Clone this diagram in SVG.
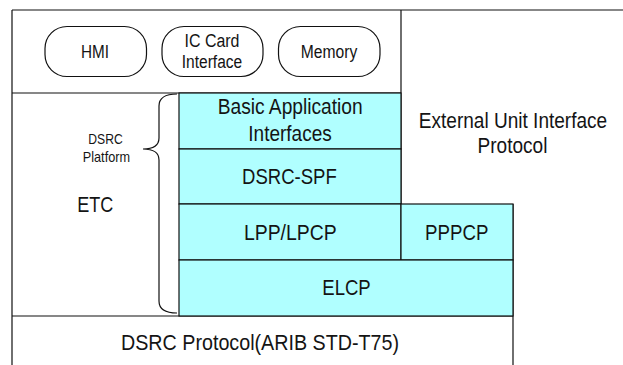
<svg xmlns="http://www.w3.org/2000/svg" width="623" height="365" viewBox="0 0 623 365">
  <style>
    .ln { fill: none; stroke: #111; stroke-width: 1.2; }
    .layer { fill: #b0ffff; stroke: #111; stroke-width: 1.2; }
    .pill { fill: #fff; stroke: #111; stroke-width: 1.2; }
    text { font-family: "Liberation Sans", Arial, sans-serif; fill: #141414; text-anchor: middle; }
    .big { font-size: 22px; }
    .mid { font-size: 18px; }
    .sm { font-size: 15px; }
  </style>
  <rect x="0" y="0" width="623" height="365" fill="#fff"/>

  <!-- frame of the unit -->
  <g id="frame">
    <path class="ln" d="M12,10 H623 M12,10 V365 M12,93 H401 M401,10 V204 M12,316 H513 M513,204 V365"/>
  </g>

  <!-- peripheral blocks -->
  <g id="hmi">
    <rect class="pill" x="45" y="26.5" width="101.5" height="50" rx="22"/>
    <text class="mid" x="95" y="58" textLength="28" lengthAdjust="spacingAndGlyphs">HMI</text>
  </g>
  <g id="ic-card">
    <rect class="pill" x="162" y="26.5" width="101" height="50" rx="22"/>
    <text class="mid" x="212" y="46.5" textLength="55" lengthAdjust="spacingAndGlyphs">IC Card</text>
    <text class="mid" x="212" y="68" textLength="60.5" lengthAdjust="spacingAndGlyphs">Interface</text>
  </g>
  <g id="memory">
    <rect class="pill" x="278.5" y="26.5" width="101.5" height="50" rx="22"/>
    <text class="mid" x="329" y="58" textLength="56.5" lengthAdjust="spacingAndGlyphs">Memory</text>
  </g>

  <!-- ETC side -->
  <g id="etc">
    <text class="big" x="95.3" y="211.5" textLength="36" lengthAdjust="spacingAndGlyphs">ETC</text>
  </g>
  <g id="dsrc-platform">
    <text class="sm" x="105.5" y="144" textLength="34.4" lengthAdjust="spacingAndGlyphs">DSRC</text>
    <text class="sm" x="106.4" y="162" textLength="47.3" lengthAdjust="spacingAndGlyphs">Platform</text>
  </g>

  <!-- protocol layers -->
  <g id="basic-app">
    <rect class="layer" x="179" y="93" width="222" height="56"/>
    <text class="big" x="290.2" y="114" textLength="145" lengthAdjust="spacingAndGlyphs">Basic Application</text>
    <text class="big" x="290" y="141" textLength="83.4" lengthAdjust="spacingAndGlyphs">Interfaces</text>
  </g>
  <g id="dsrc-spf">
    <rect class="layer" x="179" y="149" width="222" height="55"/>
    <text class="big" x="289.4" y="183.5" textLength="94.7" lengthAdjust="spacingAndGlyphs">DSRC-SPF</text>
  </g>
  <g id="lpp-lpcp">
    <rect class="layer" x="179" y="204" width="222" height="56"/>
    <text class="big" x="290.3" y="240" textLength="92.7" lengthAdjust="spacingAndGlyphs">LPP/LPCP</text>
  </g>
  <g id="pppcp">
    <rect class="layer" x="401" y="204" width="112" height="56"/>
    <text class="big" x="456.7" y="240" textLength="63.3" lengthAdjust="spacingAndGlyphs">PPPCP</text>
  </g>
  <g id="elcp">
    <rect class="layer" x="179" y="260" width="334" height="56"/>
    <text class="big" x="346.5" y="295" textLength="48.4" lengthAdjust="spacingAndGlyphs">ELCP</text>
  </g>
  <g id="external-unit">
    <!-- condensed horizontally to the narrow face width -->
    <text class="big" transform="translate(513 127.5) scale(0.866 1)" x="0" y="0">External Unit Interface</text>
    <text class="big" transform="translate(512.5 153) scale(0.866 1)" x="0" y="0">Protocol</text>
  </g>
  <g id="dsrc-protocol">
    <text class="big" x="260" y="350" textLength="278" lengthAdjust="spacingAndGlyphs">DSRC Protocol(ARIB STD-T75)</text>
  </g>

  <!-- brace grouping the platform layers -->
  <g id="connectors">
    <path class="ln" d="M177,94 Q159,94 159,106 L159,138 Q159,149 143,149 Q159,149 159,160 L159,301 Q159,313 177,313"/>
  </g>
</svg>
